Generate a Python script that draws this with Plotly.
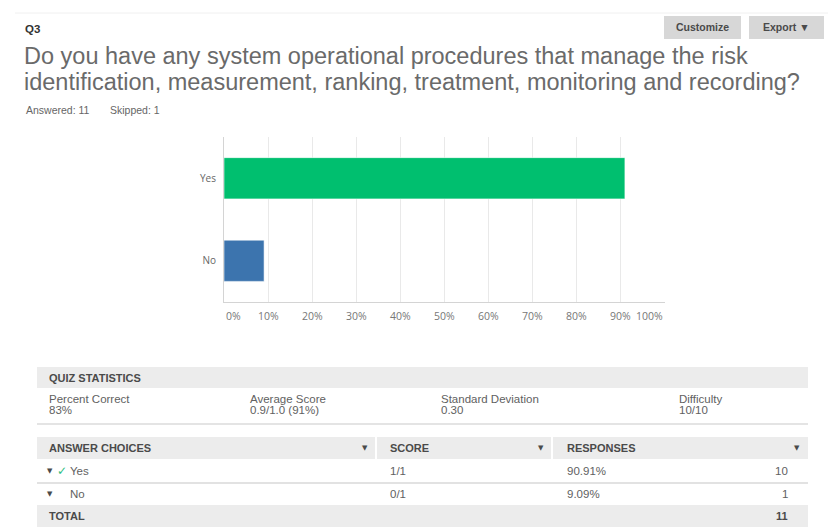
import plotly.graph_objects as go

W, H = 828, 531

# ---------------- data ----------------
question_id = "Q3"
question_lines = [
    "Do you have any system operational procedures that manage the risk",
    "identification, measurement, ranking, treatment, monitoring and recording?",
]
answered = 11
skipped = 1

choices = ["Yes", "No"]
percents = [90.91, 9.09]
counts = [10, 1]
scores = ["1/1", "0/1"]
correct = [True, False]
bar_colors = ["#00bf6f", "#3c74ae"]
total = 11

tick_values = [0, 10, 20, 30, 40, 50, 60, 70, 80, 90, 100]
tick_labels = ["0%", "10%", "20%", "30%", "40%", "50%", "60%", "70%", "80%", "90%", "100%"]

stat_labels = ["Percent Correct", "Average Score", "Standard Deviation", "Difficulty"]
stat_values = ["83%", "0.9/1.0 (91%)", "0.30", "10/10"]
table_headers = ["ANSWER CHOICES", "SCORE", "RESPONSES"]
buttons = ["Customize", "Export \u25BC"]


def px(x):
    return x / W


def py(y):
    return 1 - y / H


TXT = "#616161"
FONT = "Liberation Sans, Arial, sans-serif"
TICKFONT = "Open Sans, sans-serif"

fig = go.Figure()

for c, p, col in zip(choices, percents, bar_colors):
    fig.add_trace(go.Bar(
        y=[c], x=[p], orientation="h",
        marker=dict(color=col, line=dict(color="rgba(255,255,255,0.55)", width=1)),
        showlegend=False, hoverinfo="x+y",
    ))

shapes = []
annotations = []


def text(x, y, s, size=10, color=TXT, anchor="left", bold=False, family=FONT, yanchor="middle"):
    annotations.append(dict(
        x=px(x), y=py(y), xref="paper", yref="paper", text=("<b>%s</b>" % s) if bold else s,
        showarrow=False, xanchor=anchor, yanchor=yanchor,
        font=dict(size=size, color=color, family=family),
    ))


def rect(x0, y0, x1, y1, fill, line=None):
    shapes.append(dict(
        type="rect", xref="paper", yref="paper",
        x0=px(x0), x1=px(x1), y0=py(y1), y1=py(y0),
        fillcolor=fill, line=dict(width=0) if line is None else line, layer="below",
    ))


def hline(x0, x1, y, color="#e3e3e3", width=1):
    shapes.append(dict(type="line", xref="paper", yref="paper",
                       x0=px(x0), x1=px(x1), y0=py(y), y1=py(y),
                       line=dict(color=color, width=width), layer="below"))


def vline(x, y0, y1, color="#ffffff", width=2):
    shapes.append(dict(type="line", xref="paper", yref="paper",
                       x0=px(x), x1=px(x), y0=py(y0), y1=py(y1),
                       line=dict(color=color, width=width), layer="above"))


# faint page frame
hline(15, 828, 13, color="#f0f0f0", width=1)

# header
text(23, 29, question_id, size=11.5, color="#333333", bold=True)
rect(664, 16, 741, 39, "#d7d7d7")
rect(749, 16, 824, 39, "#d7d7d7")
text(702.5, 27.5, buttons[0], size=10.5, color="#4a4a4a", anchor="center", bold=True)
text(786.5, 27.5, buttons[1], size=10.5, color="#4a4a4a", anchor="center", bold=True)

text(22, 56, question_lines[0], size=23.5, color="#6a6a6a")
text(22, 82, question_lines[1], size=23.5, color="#6a6a6a")
text(24, 110, "Answered: %d" % answered, size=10.5, color="#666666")
text(108, 110, "Skipped: %d" % skipped, size=10.5, color="#666666")

# x tick labels through the data axis
for v, lab in zip(tick_values, tick_labels):
    anchor = "left" if v == tick_values[0] else ("right" if v == tick_values[-1] else "center")
    annotations.append(dict(x=v, y=py(316), xref="x", yref="paper", text=lab, showarrow=False,
                            xanchor=anchor, yanchor="middle",
                            font=dict(size=10.5, color="#777777", family=TICKFONT)))

# quiz statistics
rect(37, 367, 808, 388, "#ececec")
text(47, 378, "QUIZ STATISTICS", size=11, color="#4a4a4a", bold=True)
stat_x = [47, 248, 439, 677]
for x, l, v in zip(stat_x, stat_labels, stat_values):
    text(x, 399, l, size=11.5, color=TXT)
    text(x, 410, v, size=11.5, color=TXT)
hline(37, 808, 424, color="#e4e4e4", width=2)

# answer table
rect(37, 437, 808, 459, "#ececec")
vline(376, 437, 459)
vline(552, 437, 459)
hdr_x = [47, 388, 565]
arrow_x = [365, 541, 797]
for x, h, ax in zip(hdr_x, table_headers, arrow_x):
    text(x, 448, h, size=11, color="#4a4a4a", bold=True)
    text(ax, 448, "\u25BC", size=7, color="#4a4a4a", anchor="center", family="DejaVu Sans")

row_y = [471, 494]
for yy, c, s, p, n, ok in zip(row_y, choices, scores, percents, counts, correct):
    text(45, yy, "\u25BC", size=7, color="#4a4a4a", anchor="left", family="DejaVu Sans")
    if ok:
        text(55, yy, "\u2713", size=12, color="#2fc07f", anchor="left", family="DejaVu Sans")
    text(68, yy, c, size=11.5, color=TXT)
    text(388, yy, s, size=11.5, color=TXT)
    text(565, yy, "%.2f%%" % p, size=11.5, color=TXT)
    text(790, yy, str(n), size=11.5, color=TXT, anchor="right")
hline(37, 808, 483, color="#e2e2e2", width=2)

rect(37, 505, 808, 527, "#ececec")
text(47, 516, "TOTAL", size=11, color="#4a4a4a", bold=True)
text(790, 516, str(total), size=11, color="#4a4a4a", bold=True, anchor="right")

fig.update_layout(
    width=W, height=H,
    margin=dict(l=0, r=0, t=0, b=0),
    paper_bgcolor="white", plot_bgcolor="white",
    bargap=0.5,
    shapes=shapes, annotations=annotations,
    xaxis=dict(domain=[px(224), px(665)], range=[0, 100], tickvals=tick_values,
               showticklabels=False, showgrid=True, gridcolor="#e9e9e9", gridwidth=1,
               zeroline=False, showline=True, linecolor="#d4d4d4", linewidth=1, fixedrange=True),
    yaxis=dict(domain=[py(302), py(137)], categoryorder="array", categoryarray=["No", "Yes"],
               range=[-0.5, 1.5], showgrid=False, zeroline=False, showline=True,
               linecolor="#d4d4d4", linewidth=1, ticks="", ticklabelstandoff=5,
               tickfont=dict(size=10, color="#666666", family=TICKFONT), fixedrange=True),
)

fig.write_html("out.html", config={"displayModeBar": False},
               post_script="document.body.style.margin='0';document.body.style.overflow='hidden';")
